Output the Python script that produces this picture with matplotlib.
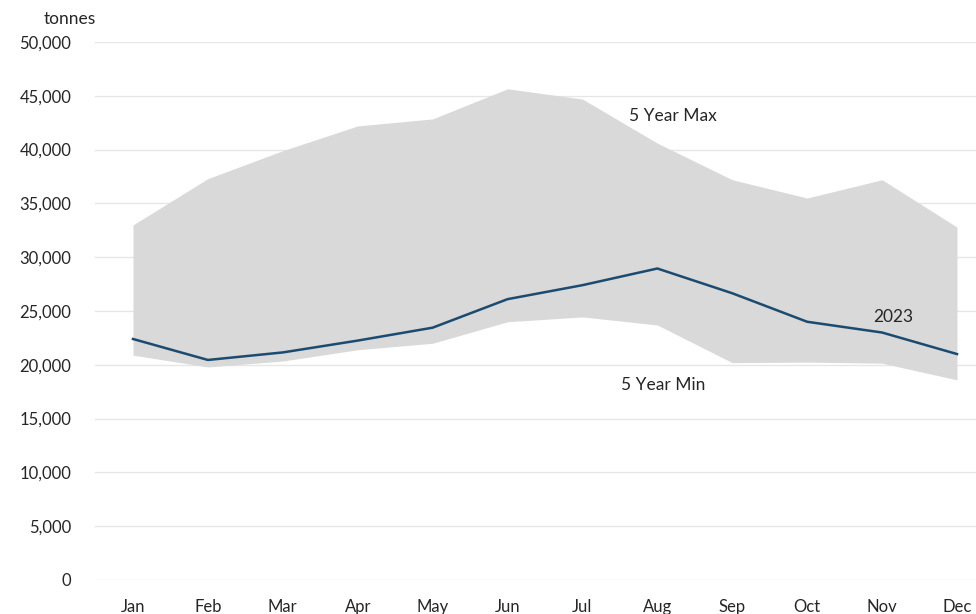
import matplotlib
matplotlib.use("Agg")
import matplotlib.pyplot as plt
from matplotlib.ticker import FuncFormatter

months = ['Jan', 'Feb', 'Mar', 'Apr', 'May', 'Jun',
          'Jul', 'Aug', 'Sep', 'Oct', 'Nov', 'Dec']
five_year_max = [33000, 37300, 39900, 42200, 42850, 45650,
                 44700, 40600, 37200, 35500, 37200, 32800]
five_year_min = [20900, 19800, 20350, 21400, 22000, 24000,
                 24450, 23700, 20200, 20250, 20150, 18600]
y2023 = [22400, 20450, 21150, 22250, 23450, 26100,
         27400, 28950, 26650, 24000, 23000, 21000]

plt.rcParams['font.family'] = ['Lato', 'DejaVu Sans']

fig = plt.figure(figsize=(9.76, 6.14), dpi=100)
ax = fig.add_axes([95 / 976, 1 - 580 / 614, 881 / 976, 538 / 614])

x = list(range(len(months)))
ax.fill_between(x, five_year_min, five_year_max, color='#d9d9d9', linewidth=0, zorder=2)
ax.plot(x, y2023, color='#1b4b70', linewidth=1.8, zorder=3)

ax.set_ylim(0, 50000)
ax.set_xlim(-0.507, 11.254)
ax.set_yticks(range(0, 50001, 5000))
ax.yaxis.set_major_formatter(FuncFormatter(lambda v, p: f'{int(v):,}'))
ax.set_xticks(x)
ax.set_xticklabels(months)
ax.grid(axis='y', color='#e6e6e6', linewidth=1.0, zorder=0)
ax.set_axisbelow(True)
for s in ax.spines.values():
    s.set_visible(False)
ax.tick_params(axis='both', length=0, labelsize=12, colors='#262626')
ax.tick_params(axis='y', pad=17)
ax.tick_params(axis='x', pad=14)

ax.text(7.21, 43150, '5 Year Max', fontsize=12.5, color='#262626', ha='center', va='center')
ax.text(7.08, 18100, '5 Year Min', fontsize=12.5, color='#262626', ha='center', va='center')
ax.text(10.15, 24400, '2023', fontsize=12.5, color='#262626', ha='center', va='center')
fig.text(70 / 976, 1 - 19 / 614, 'tonnes', fontsize=12.5, color='#262626', ha='center', va='center')

fig.savefig('out.png', dpi=100)
